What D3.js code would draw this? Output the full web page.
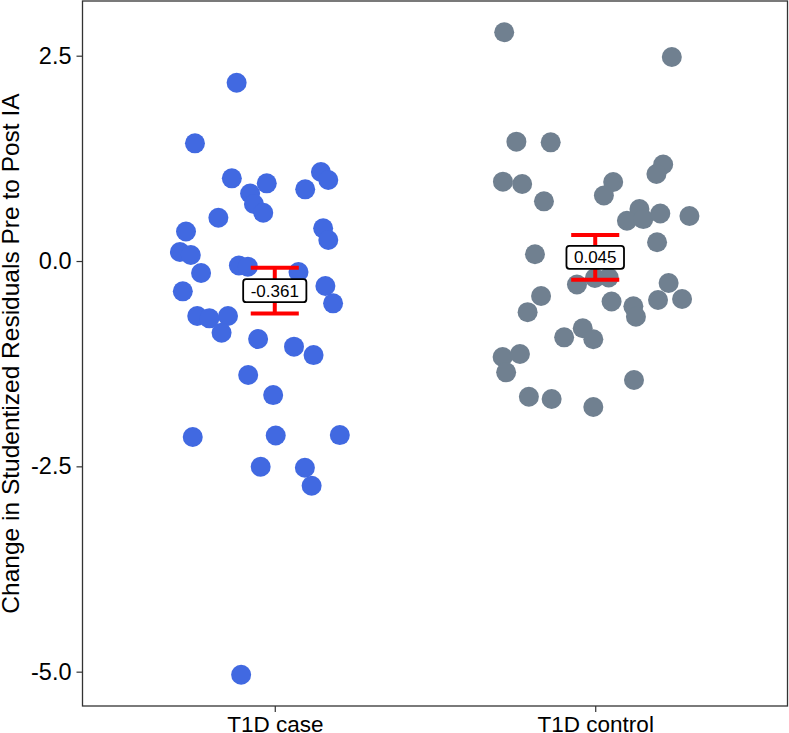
<!DOCTYPE html>
<html>
<head>
<meta charset="utf-8">
<script src="https://cdn.jsdelivr.net/npm/d3@7"></script>
<style>
  body { margin: 0; background: #fff; }
  svg { display: block; font-family: "Liberation Sans", Arial, sans-serif; }
</style>
</head>
<body>
<div id="chart"></div>
<script>
// groups on the x axis
const categories = ['T1D case', 'T1D control'];

// change in studentized residuals
const caseValues = [2.171, 1.433, 1.007, 0.946, 0.822, 0.694, 0.588, 0.873, 1.084, 0.986,
  0.527, 0.359, 0.398, 0.256, 0.110, 0.073, -0.146, -0.369, -0.670, -0.698,
  -0.670, -0.873, -0.055, -0.069, -0.134, -0.304, -0.515, -0.950, -1.043, -1.145,
  -1.388, -1.632, -2.143, -2.125, -2.119, -2.505, -2.517, -2.736, -5.037, -0.377];
// horizontal jitter, in category units
const caseJitter = [-0.119, -0.249, -0.134, -0.025, -0.077, -0.065, -0.036, 0.095, 0.144, 0.167,
  -0.176, -0.277, 0.151, 0.167, -0.296, -0.262, -0.230, -0.287, -0.242, -0.204,
  -0.146, -0.166, -0.112, -0.084, 0.074, 0.158, 0.182, -0.052, 0.060, 0.121,
  -0.083, -0.005, -0.256, 0.003, 0.203, -0.044, 0.094, 0.115, -0.105, 0.054];

const controlValues = [2.785, 2.484, 1.453, 1.445, 0.966, 0.938, 0.727, 0.962, 0.798, 1.175,
  1.059, 0.633, 0.491, 0.511, 0.578, 0.548, 0.229, 0.083, -0.286, -0.207,
  -0.201, -0.268, -0.475, -0.463, -0.493, -0.552, -0.678, -0.426, -0.623, -0.819,
  -0.953, -0.929, -1.169, -1.132, -1.355, -1.652, -1.680, -1.778, -1.449];
const controlJitter = [-0.284, 0.239, -0.246, -0.139, -0.288, -0.228, -0.160, 0.056, 0.027, 0.212,
  0.191, 0.138, 0.099, 0.150, 0.203, 0.294, 0.193, -0.188, -0.057, -0.001,
  0.042, 0.229, 0.196, 0.271, 0.051, 0.119, 0.127, -0.169, -0.211, -0.039,
  -0.006, -0.097, -0.289, -0.235, -0.278, -0.207, -0.136, -0.006, 0.121];

// mean and standard error per group
const means = [-0.361, 0.045];
const ses = [0.278, 0.273];

const yTicks = [-5.0, -2.5, 0.0, 2.5];
const groupColors = ['#4169E1', '#708090'];

const width = 789;
const height = 733;
const margin = {top: 1, right: 1.5, bottom: 27, left: 82.5};

const svg = d3.select('#chart')
  .append('svg')
    .attr('width', width)
    .attr('height', height);

const x = d3.scaleLinear()
  .domain([0.4, 2.6])
  .range([margin.left, width - margin.right]);

const y = d3.scaleLinear()
  .domain([-5.418, 3.166])
  .range([height - margin.bottom, margin.top]);

const points = [];
caseValues.forEach((v, i) => points.push({g: 0, x: 1 + caseJitter[i], v: v}));
controlValues.forEach((v, i) => points.push({g: 1, x: 2 + controlJitter[i], v: v}));

// panel border
svg.append('rect')
  .attr('x', x.range()[0])
  .attr('y', y.range()[1])
  .attr('width', x.range()[1] - x.range()[0])
  .attr('height', y.range()[0] - y.range()[1])
  .attr('fill', 'none')
  .attr('stroke', '#333')
  .attr('stroke-width', 1.3);

// axes
const yAxis = svg.append('g')
  .attr('transform', `translate(${margin.left},0)`)
  .call(d3.axisLeft(y).tickValues(yTicks).tickSize(6).tickPadding(5).tickFormat(d => d.toFixed(1)));

const xAxis = svg.append('g')
  .attr('transform', `translate(0,${height - margin.bottom})`)
  .call(d3.axisBottom(x).tickValues([1, 2]).tickSize(6).tickPadding(4).tickFormat(d => categories[d - 1]));

[yAxis, xAxis].forEach(a => {
  a.select('.domain').remove();
  a.selectAll('.tick line').attr('stroke', '#333').attr('stroke-width', 1.2);
  a.selectAll('.tick text').attr('fill', '#000');
});
yAxis.selectAll('.tick text').style('font-size', '23.5px');
xAxis.selectAll('.tick text').style('font-size', '22.5px');

// y title
svg.append('text')
  .attr('transform', `translate(18.5,${(y.range()[0] + y.range()[1]) / 2}) rotate(-90)`)
  .attr('text-anchor', 'middle')
  .style('font-size', '24.5px')
  .attr('fill', '#000')
  .text('Change in Studentized Residuals Pre to Post IA');

// points
svg.selectAll('.dot')
  .data(points)
  .enter().append('circle')
    .attr('class', 'dot')
    .attr('cx', d => x(d.x))
    .attr('cy', d => y(d.v))
    .attr('r', 10)
    .attr('fill', d => groupColors[d.g]);

// error bars: mean +/- se
const bars = svg.selectAll('.err')
  .data(means)
  .enter().append('g')
    .attr('class', 'err')
    .attr('stroke', '#FF0000')
    .attr('stroke-width', 4);

const capHalf = 0.075;
bars.append('line')
  .attr('x1', (d, i) => x(i + 1))
  .attr('x2', (d, i) => x(i + 1))
  .attr('y1', (d, i) => y(d + ses[i]))
  .attr('y2', (d, i) => y(d - ses[i]));
bars.append('line')
  .attr('x1', (d, i) => x(i + 1 - capHalf))
  .attr('x2', (d, i) => x(i + 1 + capHalf))
  .attr('y1', (d, i) => y(d + ses[i]))
  .attr('y2', (d, i) => y(d + ses[i]));
bars.append('line')
  .attr('x1', (d, i) => x(i + 1 - capHalf))
  .attr('x2', (d, i) => x(i + 1 + capHalf))
  .attr('y1', (d, i) => y(d - ses[i]))
  .attr('y2', (d, i) => y(d - ses[i]));

// mean labels
const labels = svg.selectAll('.mean-label')
  .data(means)
  .enter().append('g')
    .attr('class', 'mean-label')
    .attr('transform', (d, i) => `translate(${x(i + 1)},${y(d)})`);

labels.append('rect');
labels.append('text')
  .attr('text-anchor', 'middle')
  .attr('dy', '0.36em')
  .style('font-size', '17px')
  .attr('fill', '#000')
  .text(d => d.toFixed(3));

labels.each(function() {
  const g = d3.select(this);
  const bb = g.select('text').node().getBBox();
  const padX = 7.5;
  const h = 23;
  g.select('rect')
    .attr('x', -bb.width / 2 - padX)
    .attr('y', -h / 2)
    .attr('width', bb.width + 2 * padX)
    .attr('height', h)
    .attr('rx', 3)
    .attr('fill', '#fff')
    .attr('stroke', '#000')
    .attr('stroke-width', 1.8);
});
</script>
</body>
</html>
